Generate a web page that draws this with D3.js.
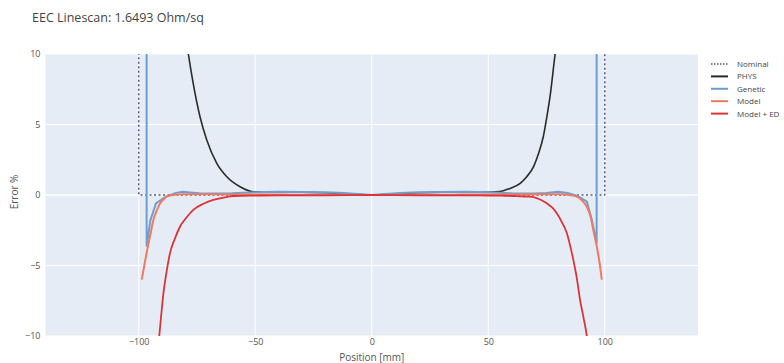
<!DOCTYPE html>
<html><head><meta charset="utf-8">
<script src="https://cdn.jsdelivr.net/npm/d3@7"></script>
<style>body{margin:0;background:#fff;} text{font-family:"Open Sans","DejaVu Sans",sans-serif;}</style>
</head><body><svg id="c" width="784" height="363"></svg>
<script>
const title = "EEC Linescan: 1.6493 Ohm/sq";
const xTicks = [-100, -50, 0, 50, 100];
const yTicks = [-10, -5, 0, 5, 10];
const seriesNames = ["Nominal", "PHYS", "Genetic", "Model", "Model + ED"];

const nominalX = [-100, -100, 100, 100];
const nominalY = [12, 0, 0, 12];

const physX = [-80, -78.7, -76.6, -73.7, -70.8, -66.5, -62.2, -56.5, -50.8, -45, -40, -30, -20, -10, 0, 10, 20, 30, 40, 48, 55, 59, 63.7, 66.5, 69.4, 71.5, 73.6, 75, 76.5, 78.7, 80];
const physY = [11.5, 10, 7.9, 5.55, 3.9, 2.25, 1.3, 0.59, 0.23, 0.2, 0.2, 0.2, 0.16, 0.08, 0, 0.08, 0.16, 0.2, 0.2, 0.2, 0.25, 0.45, 0.83, 1.3, 2.0, 2.9, 4.13, 5.4, 6.97, 10, 11.5];

const geneticX = [-96.6, -96.6, -95, -92.6, -90, -88, -84, -81, -78, -74, -70, -60, -50, -40, -30, -20, -12, -6, 0, 6, 12, 20, 30, 40, 50, 60, 70, 75, 80, 84, 88, 92.3, 94.5, 96.5, 96.5];
const geneticY = [12, -3.6, -1.8, -0.59, -0.3, -0.1, 0.15, 0.23, 0.18, 0.12, 0.1, 0.12, 0.2, 0.23, 0.22, 0.2, 0.14, 0.07, 0, 0.07, 0.14, 0.2, 0.22, 0.23, 0.2, 0.12, 0.1, 0.14, 0.23, 0.15, -0.05, -0.47, -1.8, -3.4, 12];

const modelX = [-98.7, -97.5, -96.6, -95, -93.7, -92, -90.8, -89, -88, -86, -83.7, -80, -75, -70, -60, -50, -40, -30, -20, -10, 0, 10, 20, 30, 40, 50, 60, 70, 75, 80, 84, 86, 88, 90, 92.3, 94, 95.1, 96.6, 98, 98.7];
const modelY = [-6.0, -4.9, -4.1, -2.8, -1.77, -1.0, -0.59, -0.25, -0.12, -0.02, 0.04, 0.05, 0.06, 0.05, 0.04, 0.03, 0.03, 0.02, 0.02, 0.01, 0, 0.01, 0.02, 0.02, 0.03, 0.03, 0.04, 0.05, 0.06, 0.05, 0.02, -0.03, -0.12, -0.35, -0.83, -1.6, -2.5, -3.67, -5.08, -6.0];

const edX = [-92, -91.2, -89.4, -88, -86.6, -84.5, -82.3, -79.5, -76.6, -72, -68, -64, -59.4, -50, -40, -30, -20, -10, 0, 10, 20, 30, 40, 50, 56, 60.8, 64, 67.9, 72, 75.1, 77.5, 79.4, 81.5, 83.7, 85, 86.5, 88, 89.4, 91, 92.3, 93];
const edY = [-11.2, -10, -6.97, -5.4, -4.14, -3.1, -2.25, -1.6, -1.06, -0.6, -0.35, -0.2, -0.07, -0.04, -0.02, -0.03, -0.02, -0.01, 0, -0.01, -0.02, -0.03, -0.02, -0.04, -0.05, -0.07, -0.1, -0.12, -0.3, -0.59, -0.9, -1.3, -1.9, -2.7, -3.5, -4.6, -5.9, -7.45, -8.8, -10, -11];

const colors = {"Nominal":"#545880","PHYS":"#2a2a2a","Genetic":"#6b9fd1","Model":"#f2795f","Model + ED":"#dc3238"};
const seriesData = {
  "Nominal": [nominalX, nominalY],
  "PHYS": [physX, physY],
  "Genetic": [geneticX, geneticY],
  "Model": [modelX, modelY],
  "Model + ED": [edX, edY]
};

const svg = d3.select("#c");
const L = 45.5, R = 698, T = 54, B = 336;
const x = d3.scaleLinear().domain([-140, 140]).range([L, R]);
const y = d3.scaleLinear().domain([-10, 10]).range([B, T]);

svg.append("text").attr("x", 32).attr("y", 22).attr("font-size", 12.5).attr("fill", "#444").text(title);

svg.append("rect").attr("x", L).attr("y", T).attr("width", R - L).attr("height", B - T).attr("fill", "#e5ecf6");

const gx = svg.append("g").attr("transform", `translate(0,${B})`)
  .call(d3.axisBottom(x).tickValues(xTicks).tickSize(0).tickPadding(3).tickFormat(d => d < 0 ? "\u2212" + Math.abs(d) : d));
gx.select(".domain").remove();
gx.selectAll("text").attr("font-size", 9).attr("fill", "#555").style("font-family", "'Open Sans',sans-serif");

const gy = svg.append("g").attr("transform", `translate(${L},0)`)
  .call(d3.axisLeft(y).tickValues(yTicks).tickSize(0).tickPadding(5).tickFormat(d => d < 0 ? "\u2212" + Math.abs(d) : d));
gy.select(".domain").remove();
gy.selectAll("text").attr("font-size", 9).attr("fill", "#555").style("font-family", "'Open Sans',sans-serif");

// grid
svg.append("g").selectAll("line").data(xTicks).join("line")
  .attr("x1", d => x(d)).attr("x2", d => x(d)).attr("y1", T).attr("y2", B)
  .attr("stroke", "#fff").attr("stroke-width", 1);
svg.append("g").selectAll("line").data(yTicks).join("line")
  .attr("y1", d => y(d)).attr("y2", d => y(d)).attr("x1", L).attr("x2", R)
  .attr("stroke", "#fff").attr("stroke-width", d => d === 0 ? 1.5 : 1);

svg.append("clipPath").attr("id", "clip").append("rect").attr("x", L).attr("y", T).attr("width", R - L).attr("height", B - T);
const plot = svg.append("g").attr("clip-path", "url(#clip)");
const lineLinear = d3.line().x(d => x(d[0])).y(d => y(d[1]));
const lineSmooth = d3.line().x(d => x(d[0])).y(d => y(d[1])).curve(d3.curveMonotoneX);

const drawOrder = ["Nominal", "PHYS", "Genetic", "Model", "Model + ED"];
const widths = {"Nominal":1.5,"PHYS":1.6,"Genetic":2,"Model":2,"Model + ED":1.8};
drawOrder.forEach(name => {
  const [xs, ys] = seriesData[name];
  const pts = xs.map((v, i) => [v, ys[i]]);
  const gen = (name === "Nominal" || name === "Genetic") ? lineLinear : lineSmooth;
  const p = plot.append("path").datum(pts).attr("d", gen)
    .attr("fill", "none").attr("stroke", colors[name]).attr("stroke-width", widths[name])
    .attr("stroke-linejoin", "round");
  if (name === "Nominal") p.attr("stroke-dasharray", "2,2.5");
});

svg.append("text").attr("x", (L + R) / 2).attr("y", 361).attr("text-anchor", "middle")
  .attr("font-size", 10).attr("fill", "#555").text("Position [mm]");
svg.append("text").attr("transform", `translate(18,${(T + B) / 2 - 3}) rotate(-90)`).attr("text-anchor", "middle")
  .attr("font-size", 10).attr("fill", "#555").text("Error %");

// legend
const lg = svg.append("g");
seriesNames.forEach((name, i) => {
  const yy = 64 + i * 12.4;
  const ln = lg.append("line").attr("x1", 711).attr("x2", 728).attr("y1", yy).attr("y2", yy)
    .attr("stroke", colors[name]).attr("stroke-width", name === "Nominal" ? 1.3 : 2);
  if (name === "Nominal") ln.attr("stroke-dasharray", "1.5,1.5");
  lg.append("text").attr("x", 737).attr("y", yy + 3).attr("font-size", 8).attr("fill", "#444").text(name);
});
</script></body></html>
